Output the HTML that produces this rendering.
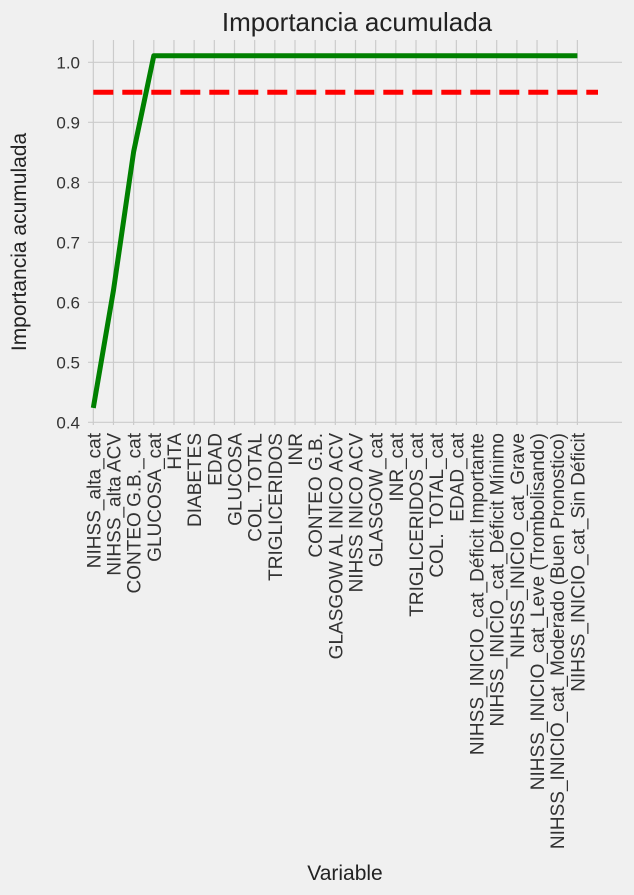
<!DOCTYPE html>
<html><head><meta charset="utf-8"><style>
body{margin:0;background:#f0f0f0;}
svg{display:block;font-family:"Liberation Sans",sans-serif;}
</style></head><body>
<svg id="chart" width="634" height="895" viewBox="0 0 634 895">
<rect width="634" height="895" fill="#f0f0f0"/>
<g id="grid"></g>
<g id="marks"></g>
<g id="labels"></g>
<text x="357" y="31" font-size="26" text-anchor="middle" fill="#222">Importancia acumulada</text>
<text transform="translate(26,242) rotate(-90)" font-size="21" text-anchor="middle" fill="#222">Importancia acumulada</text>
<text x="345" y="880" font-size="21" text-anchor="middle" fill="#222">Variable</text>
</svg>
<script>
const categories=["NIHSS_alta_cat","NIHSS_alta ACV","CONTEO G.B._cat","GLUCOSA_cat","HTA","DIABETES","EDAD","GLUCOSA","COL. TOTAL","TRIGLICERIDOS","INR","CONTEO G.B.","GLASGOW AL INICO ACV","NIHSS INICO ACV","GLASGOW_cat","INR_cat","TRIGLICERIDOS_cat","COL. TOTAL_cat","EDAD_cat","NIHSS_INICIO_cat_Déficit Importante","NIHSS_INICIO_cat_Déficit Mínimo","NIHSS_INICIO_cat_Grave","NIHSS_INICIO_cat_Leve (Trombolisando)","NIHSS_INICIO_cat_Moderado (Buen Pronostico)","NIHSS_INICIO_cat_Sin Déficit"];
const cumulative=[0.424,0.62,0.851,1.011,1.011,1.011,1.011,1.011,1.011,1.011,1.011,1.011,1.011,1.011,1.011,1.011,1.011,1.011,1.011,1.011,1.011,1.011,1.011,1.011,1.011];
const threshold=0.95;
const yTicks=[0.4,0.5,0.6,0.7,0.8,0.9,1.0];
const tickLabels=["0.4","0.5","0.6","0.7","0.8","0.9","1.0"];

(function(){
const NS="http://www.w3.org/2000/svg";
const X=i=>93.3+i*20.17;
const Y=v=>422.3-(v-0.4)*600;
const pL=88,pR=622,pT=40,pB=425;
function mk(tag,attrs,parent){const e=document.createElementNS(NS,tag);for(const k in attrs)e.setAttribute(k,attrs[k]);parent.appendChild(e);return e;}
const grid=document.getElementById('grid'),marks=document.getElementById('marks'),labels=document.getElementById('labels');
yTicks.forEach((t,i)=>{
  const l=mk('line',{x1:pL,x2:pR,y1:Y(t),y2:Y(t),stroke:'#cbcbcb','stroke-width':1.2},grid);
  
  
  const tx=mk('text',{x:80,y:Y(t)+6,'font-size':17,'text-anchor':'end',fill:'#333'},labels);
  tx.textContent=tickLabels[i];
  
  
});
categories.forEach((c,i)=>{
  const l=mk('line',{x1:X(i),x2:X(i),y1:pT,y2:pB,stroke:'#cbcbcb','stroke-width':1.2},grid);
  
  
  const tx=mk('text',{transform:`translate(${X(i)+7},433) rotate(-90)`,'font-size':19,'text-anchor':'end',fill:'#333'},labels);
  tx.textContent=c;
  
  
});
const th=mk('line',{x1:X(0),x2:598,y1:Y(threshold),y2:Y(threshold),stroke:'#ff0000','stroke-width':5,'stroke-dasharray':'20 9'},marks);


const pl=mk('polyline',{points:cumulative.map((v,i)=>X(i)+','+Y(v)).join(' '),fill:'none',stroke:'#008000','stroke-width':5,'stroke-linejoin':'round'},marks);


})();
</script>
</body></html>
